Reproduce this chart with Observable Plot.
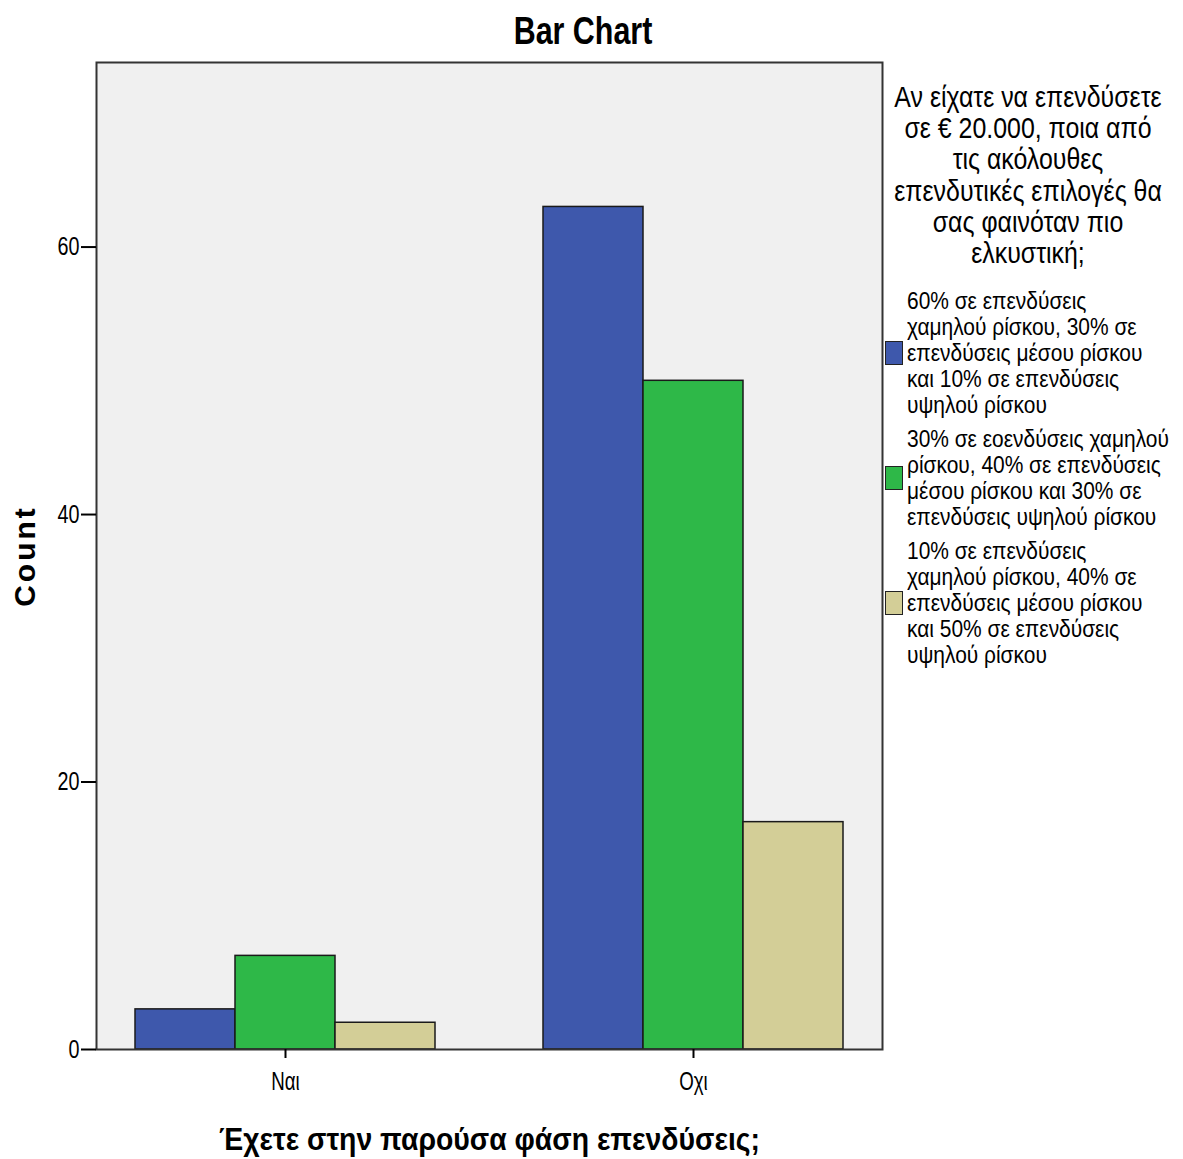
<!DOCTYPE html>
<html>
<head>
<meta charset="utf-8">
<script src="https://cdn.jsdelivr.net/npm/d3@7"></script>
<script src="https://cdn.jsdelivr.net/npm/@observablehq/plot@0.6"></script>
<style>
  html, body { margin: 0; padding: 0; background: #fff; }
  #wrap { position: relative; width: 1183px; height: 1159px; overflow: hidden; font-family: 'Liberation Sans', Arial, sans-serif; color: #000; }
  #title { position: absolute; left: 0; width: 1166px; top: 7px; text-align: center; font-weight: bold; font-size: 39px; line-height: 48px; white-space: pre; transform: scaleX(0.78); transform-origin: 583px 0; }
  #chart { position: absolute; left: 0; top: 0; }
  #legend { position: absolute; left: 885px; top: 81px; width: 298px; }
  #legend .ltitle { text-align: center; font-size: 30px; line-height: 31.2px; width: 400px; margin-left: -57px; margin-bottom: 20px; white-space: pre; transform: scaleX(0.83); transform-origin: 200px 0; }
  #legend .item { display: flex; align-items: center; margin-bottom: 8px; }
  #legend .sw { width: 16px; height: 22px; border: 1px solid #222; flex: none; margin-right: 4px; }
  #legend .txt { font-size: 23px; line-height: 26px; white-space: pre; transform: scaleX(0.91); transform-origin: 0 0; }
  #chart svg [aria-label="y-axis label"], #chart svg [aria-label="y-axis label"] text { font-weight: bold; font-size: 30px; letter-spacing: 3px; }
  #chart svg [aria-label="fx-axis label"], #chart svg [aria-label="fx-axis label"] text { font-weight: bold; font-size: 31px; }
</style>
</head>
<body>
<div id="wrap">
  <div id="chart"></div>
  <div id="title"></div>
  <div id="legend"></div>
</div>
<script>
// ---- data ----
const chartTitle = "Bar Chart";
const groups = ["Ναι", "Οχι"];
const xLabel = "Έχετε στην παρούσα φάση επενδύσεις;";
const yLabel = "Count";
const yTicks = [0, 20, 40, 60];
const legendTitle = "Αν είχατε να επενδύσετε\nσε € 20.000, ποια από\nτις ακόλουθες\nεπενδυτικές επιλογές θα\nσας φαινόταν πιο\nελκυστική;";
const seriesNames = [
  "60% σε επενδύσεις\nχαμηλού ρίσκου, 30% σε\nεπενδύσεις μέσου ρίσκου\nκαι 10% σε επενδύσεις\nυψηλού ρίσκου",
  "30% σε εοενδύσεις χαμηλού\nρίσκου, 40% σε επενδύσεις\nμέσου ρίσκου και 30% σε\nεπενδύσεις υψηλού ρίσκου",
  "10% σε επενδύσεις\nχαμηλού ρίσκου, 40% σε\nεπενδύσεις μέσου ρίσκου\nκαι 50% σε επενδύσεις\nυψηλού ρίσκου"
];
const seriesColors = ["#3E58AC", "#2EB848", "#D3CE97"];
const countsSeries1 = [3, 63];
const countsSeries2 = [7, 50];
const countsSeries3 = [2, 17];

const allCounts = [countsSeries1, countsSeries2, countsSeries3];
const rows = groups.flatMap((g, i) => seriesNames.map((s, j) => ({group: g, series: s, count: allCounts[j][i]})));

document.getElementById("title").textContent = chartTitle;

const chart = Plot.plot({
  width: 885,
  height: 1159,
  marginTop: 62,
  marginBottom: 110,
  marginLeft: 95,
  marginRight: 2,
  style: {fontFamily: "'Liberation Sans', Arial, sans-serif", fontSize: "26px", color: "#000", background: "transparent", overflow: "visible"},
  fx: {domain: groups, paddingInner: 0.0733, paddingOuter: 0},
  x: {domain: seriesNames, paddingInner: 0, paddingOuter: 0.376, axis: null},
  y: {domain: [0, 73.8]},
  color: {domain: seriesNames, range: seriesColors},
  marks: [
    Plot.frame({facet: "super", fill: "#f0f0f0", stroke: "none"}),
    Plot.barY(rows, {fx: "group", x: "series", y: "count", fill: "series", stroke: "#1a1a1a", strokeWidth: 1.5}),
    Plot.frame({facet: "super", stroke: "#333", strokeWidth: 2}),
    Plot.axisY({ticks: yTicks, tickSize: 15, tickPadding: 2, strokeWidth: 2, label: yLabel, labelArrow: "none", labelAnchor: "center", labelOffset: 83}),
    Plot.axisFx({anchor: "bottom", tickSize: 9, tickPadding: 13, strokeWidth: 2, label: xLabel, labelArrow: "none", labelAnchor: "center", labelOffset: 100})
  ]
});
document.getElementById("chart").appendChild(chart);

// condense SVG texts horizontally (the reference uses a narrow face)
function condense(selector, k) {
  chart.querySelectorAll(selector).forEach(t => {
    const len = t.getComputedTextLength();
    if (len > 0) {
      t.setAttribute("textLength", len * k);
      t.setAttribute("lengthAdjust", "spacingAndGlyphs");
    }
  });
}
condense('[aria-label="y-axis tick label"] text', 0.76);
condense('[aria-label="fx-axis tick label"] text', 0.72);
condense('[aria-label="fx-axis label"] text', 0.915);

// legend
const legend = document.getElementById("legend");
const lt = document.createElement("div");
lt.className = "ltitle";
lt.textContent = legendTitle;
legend.appendChild(lt);
seriesNames.forEach((s, i) => {
  const item = document.createElement("div");
  item.className = "item";
  const sw = document.createElement("div");
  sw.className = "sw";
  sw.style.background = seriesColors[i];
  const t = document.createElement("div");
  t.className = "txt";
  t.textContent = s;
  item.appendChild(sw);
  item.appendChild(t);
  legend.appendChild(item);
});
</script>
</body>
</html>
